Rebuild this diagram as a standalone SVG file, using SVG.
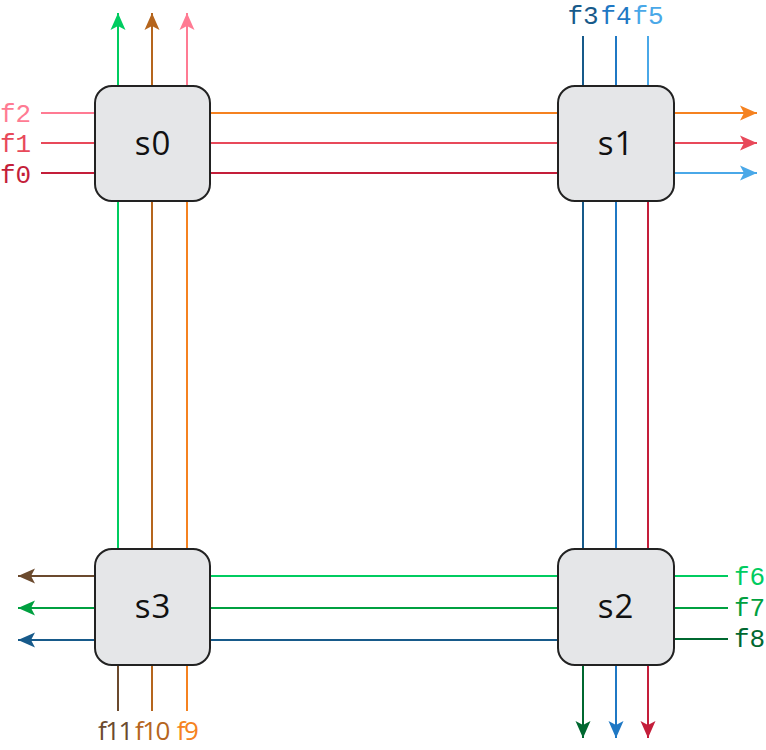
<svg xmlns="http://www.w3.org/2000/svg" width="766" height="750" viewBox="0 0 766 750">
<style>
.node rect{fill:#e5e6e8;stroke:#222;stroke-width:2}
.node text{font-family:"Open Sans","Liberation Sans",sans-serif;font-size:33px;fill:#111;text-anchor:middle;letter-spacing:1px}
.flow{fill:none;stroke-width:2}
.lbl{font-family:"Liberation Mono","DejaVu Sans Mono",monospace;font-size:26px}
.lbl2{font-family:"Open Sans","Liberation Sans",sans-serif;font-size:26px;text-anchor:middle;letter-spacing:-1.5px}
</style>
<defs>
<marker id="a0" markerUnits="userSpaceOnUse" markerWidth="18" markerHeight="16" refX="17" refY="8" orient="auto"><path d="M0,0.5L17,8L0,15.5L4,8z" fill="#c41e3a"/></marker>
<marker id="a1" markerUnits="userSpaceOnUse" markerWidth="18" markerHeight="16" refX="17" refY="8" orient="auto"><path d="M0,0.5L17,8L0,15.5L4,8z" fill="#e8495a"/></marker>
<marker id="a2" markerUnits="userSpaceOnUse" markerWidth="18" markerHeight="16" refX="17" refY="8" orient="auto"><path d="M0,0.5L17,8L0,15.5L4,8z" fill="#ff7b93"/></marker>
<marker id="a3" markerUnits="userSpaceOnUse" markerWidth="18" markerHeight="16" refX="17" refY="8" orient="auto"><path d="M0,0.5L17,8L0,15.5L4,8z" fill="#175a8a"/></marker>
<marker id="a4" markerUnits="userSpaceOnUse" markerWidth="18" markerHeight="16" refX="17" refY="8" orient="auto"><path d="M0,0.5L17,8L0,15.5L4,8z" fill="#1f78c4"/></marker>
<marker id="a5" markerUnits="userSpaceOnUse" markerWidth="18" markerHeight="16" refX="17" refY="8" orient="auto"><path d="M0,0.5L17,8L0,15.5L4,8z" fill="#4aa8e8"/></marker>
<marker id="a6" markerUnits="userSpaceOnUse" markerWidth="18" markerHeight="16" refX="17" refY="8" orient="auto"><path d="M0,0.5L17,8L0,15.5L4,8z" fill="#00cc60"/></marker>
<marker id="a7" markerUnits="userSpaceOnUse" markerWidth="18" markerHeight="16" refX="17" refY="8" orient="auto"><path d="M0,0.5L17,8L0,15.5L4,8z" fill="#00a040"/></marker>
<marker id="a8" markerUnits="userSpaceOnUse" markerWidth="18" markerHeight="16" refX="17" refY="8" orient="auto"><path d="M0,0.5L17,8L0,15.5L4,8z" fill="#006830"/></marker>
<marker id="a9" markerUnits="userSpaceOnUse" markerWidth="18" markerHeight="16" refX="17" refY="8" orient="auto"><path d="M0,0.5L17,8L0,15.5L4,8z" fill="#f58220"/></marker>
<marker id="a10" markerUnits="userSpaceOnUse" markerWidth="18" markerHeight="16" refX="17" refY="8" orient="auto"><path d="M0,0.5L17,8L0,15.5L4,8z" fill="#b5651d"/></marker>
<marker id="a11" markerUnits="userSpaceOnUse" markerWidth="18" markerHeight="16" refX="17" refY="8" orient="auto"><path d="M0,0.5L17,8L0,15.5L4,8z" fill="#6b4a2e"/></marker>
</defs>
<g id="connectors">
<path class="flow" id="f0" d="M41,173H648V738" stroke="#c41e3a" marker-end="url(#a0)"/>
<path class="flow" id="f1" d="M41,143H757" stroke="#e8495a" marker-end="url(#a1)"/>
<path class="flow" id="f2" d="M41,113H187V13" stroke="#ff7b93" marker-end="url(#a2)"/>
<path class="flow" id="f3" d="M583,36V640H18" stroke="#175a8a" marker-end="url(#a3)"/>
<path class="flow" id="f4" d="M616,36V738" stroke="#1f78c4" marker-end="url(#a4)"/>
<path class="flow" id="f5" d="M648,36V173H757" stroke="#4aa8e8" marker-end="url(#a5)"/>
<path class="flow" id="f6" d="M728,576H118V13" stroke="#00cc60" marker-end="url(#a6)"/>
<path class="flow" id="f7" d="M728,608H18" stroke="#00a040" marker-end="url(#a7)"/>
<path class="flow" id="f8" d="M728,639H583V738" stroke="#006830" marker-end="url(#a8)"/>
<path class="flow" id="f9" d="M187,711V113H757" stroke="#f58220" marker-end="url(#a9)"/>
<path class="flow" id="f10" d="M152,711V13" stroke="#b5651d" marker-end="url(#a10)"/>
<path class="flow" id="f11" d="M118,711V576H18" stroke="#6b4a2e" marker-end="url(#a11)"/>
</g>
<g id="labels">
<text class="lbl" x="0" y="122" fill="#ff7b93">f2</text>
<text class="lbl" x="0" y="152" fill="#e8495a">f1</text>
<text class="lbl" x="0" y="183" fill="#c41e3a">f0</text>
<text class="lbl" x="583" y="24" fill="#175a8a" text-anchor="middle">f3</text>
<text class="lbl" x="616" y="24" fill="#1f78c4" text-anchor="middle">f4</text>
<text class="lbl" x="648" y="24" fill="#4aa8e8" text-anchor="middle">f5</text>
<text class="lbl" x="734" y="585" fill="#00cc60">f6</text>
<text class="lbl" x="734" y="616" fill="#00a040">f7</text>
<text class="lbl" x="734" y="647" fill="#006830">f8</text>
<text class="lbl2" x="115" y="740" fill="#6b4a2e">f11</text>
<text class="lbl2" x="152" y="740" fill="#b5651d">f10</text>
<text class="lbl2" x="187" y="740" fill="#f58220">f9</text>
</g>
<g id="s0" class="node"><rect x="95" y="86" width="115" height="115" rx="17"/><text x="153" y="155">s0</text></g>
<g id="s1" class="node"><rect x="558" y="86" width="116" height="115" rx="17"/><text x="616" y="155">s1</text></g>
<g id="s2" class="node"><rect x="558" y="549" width="116" height="116" rx="17"/><text x="616" y="618">s2</text></g>
<g id="s3" class="node"><rect x="95" y="549" width="115" height="116" rx="17"/><text x="153" y="618">s3</text></g>
</svg>
